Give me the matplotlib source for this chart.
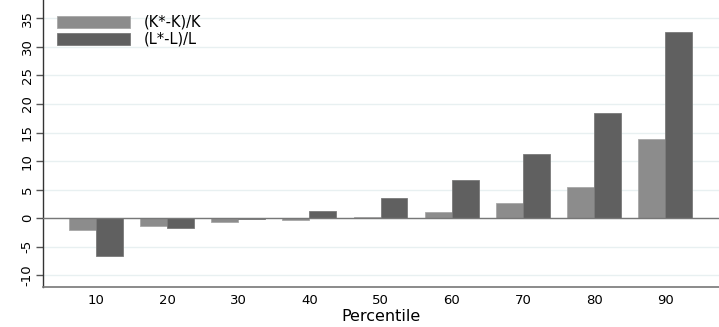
import numpy as np
import matplotlib
matplotlib.use("Agg")
import matplotlib.pyplot as plt

# data
percentiles = [10, 20, 30, 40, 50, 60, 70, 80, 90]
capital_gap = [-2.0, -1.3, -0.75, -0.4, 0.15, 1.05, 2.6, 5.5, 13.9]
labour_gap = [-6.7, -1.75, -0.15, 1.2, 3.5, 6.7, 11.3, 18.4, 32.6]
series_labels = ["(K*-K)/K", "(L*-L)/L"]
yticks = [-10, -5, 0, 5, 10, 15, 20, 25, 30, 35]

plt.rcParams['font.family'] = ['DejaVu Sans']

fig = plt.figure(figsize=(7.19, 3.27), dpi=100)
ax = fig.add_axes([0.0605, 0.1214, 0.9395, 0.8786])

x = np.arange(1, len(percentiles) + 1)
w = 0.378
ax.bar(x - w / 2, capital_gap, width=w, color="#8c8c8c", edgecolor="#a8a8a8",
       linewidth=0.6, label=series_labels[0], zorder=3)
ax.bar(x + w / 2, labour_gap, width=w, color="#606060", edgecolor="#7a7a7a",
       linewidth=0.6, label=series_labels[1], zorder=3)

ax.axhline(0, color="#777777", linewidth=1.0, zorder=4)

ax.set_xlim(0.265, 9.755)
ax.set_ylim(-12.1, 38.2)
ax.set_xticks(x)
ax.set_xticklabels([str(p) for p in percentiles], fontsize=9.5)
ax.set_yticks(yticks)
ax.set_yticklabels([str(t) for t in yticks], fontsize=9.5, rotation=90, va="center")
ax.tick_params(axis="x", length=0, pad=5)
ax.tick_params(axis="y", length=5, width=1, color="#555555", pad=2)
ax.yaxis.grid(True, color="#e8f0f1", linewidth=1.0, zorder=0)
ax.set_axisbelow(True)

for side in ["top", "right"]:
    ax.spines[side].set_visible(False)
ax.spines["left"].set_color("#333333")
ax.spines["bottom"].set_color("#777777")
ax.spines["left"].set_linewidth(1.0)
ax.spines["bottom"].set_linewidth(1.2)

ax.set_xlabel("Percentile", fontsize=11.5, labelpad=1)

ax.legend(loc="upper left", bbox_to_anchor=(0.012, 0.969), frameon=False,
          fontsize=10.5, handlelength=5.0, handleheight=0.9, handletextpad=0.9,
          labelspacing=0.15, borderaxespad=0)

fig.savefig("out.png", dpi=100)
